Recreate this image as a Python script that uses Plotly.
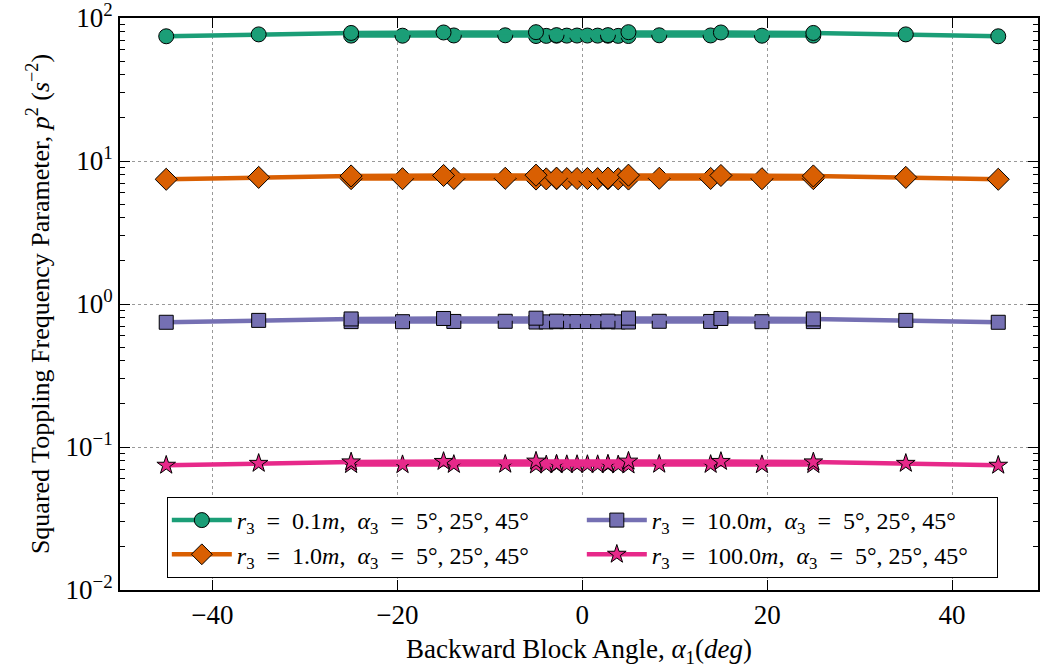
import plotly.graph_objects as go

# alpha_1 sample positions for each alpha_3 series
x_a5 = [-5.0, -3.89, -2.78, -1.67, -0.56, 0.56, 1.67, 2.78, 3.89, 5.0]
x_a25 = [-25.0, -19.44, -13.89, -8.33, -2.78, 2.78, 8.33, 13.89, 19.44, 25.0]
x_a45 = [-45.0, -35.0, -25.0, -15.0, -5.0, 5.0, 15.0, 25.0, 35.0, 45.0]

# r3 = 0.1 m
p2_r01_a5 = [74.8, 75.0, 75.2, 75.3, 75.4, 75.4, 75.3, 75.2, 75.0, 74.8]
p2_r01_a25 = [75.3, 75.2, 75.5, 75.7, 75.9, 75.9, 75.7, 75.5, 75.2, 75.3]
p2_r01_a45 = [74.5, 76.8, 78.6, 79.2, 79.6, 79.6, 79.2, 78.6, 76.8, 74.5]
# r3 = 1.0 m
p2_r1_a5 = [7.48, 7.50, 7.52, 7.53, 7.54, 7.54, 7.53, 7.52, 7.50, 7.48]
p2_r1_a25 = [7.53, 7.52, 7.55, 7.57, 7.59, 7.59, 7.57, 7.55, 7.52, 7.53]
p2_r1_a45 = [7.45, 7.68, 7.86, 7.92, 7.96, 7.96, 7.92, 7.86, 7.68, 7.45]
# r3 = 10.0 m
p2_r10_a5 = [0.748, 0.750, 0.752, 0.753, 0.754, 0.754, 0.753, 0.752, 0.750, 0.748]
p2_r10_a25 = [0.753, 0.752, 0.755, 0.757, 0.759, 0.759, 0.757, 0.755, 0.752, 0.753]
p2_r10_a45 = [0.745, 0.768, 0.786, 0.792, 0.796, 0.796, 0.792, 0.786, 0.768, 0.745]
# r3 = 100.0 m
p2_r100_a5 = [0.0748, 0.0750, 0.0752, 0.0753, 0.0754, 0.0754, 0.0753, 0.0752, 0.0750, 0.0748]
p2_r100_a25 = [0.0753, 0.0752, 0.0755, 0.0757, 0.0759, 0.0759, 0.0757, 0.0755, 0.0752, 0.0753]
p2_r100_a45 = [0.0745, 0.0768, 0.0786, 0.0792, 0.0796, 0.0796, 0.0792, 0.0786, 0.0768, 0.0745]

S = "\u2002"
legend_labels = [
    f"<i>r</i><sub>3</sub>{S}={S}0.1<i>m</i>,{S}<i>α</i><sub>3</sub>{S}={S}5°, 25°, 45°",
    f"<i>r</i><sub>3</sub>{S}={S}1.0<i>m</i>,{S}<i>α</i><sub>3</sub>{S}={S}5°, 25°, 45°",
    f"<i>r</i><sub>3</sub>{S}={S}10.0<i>m</i>,{S}<i>α</i><sub>3</sub>{S}={S}5°, 25°, 45°",
    f"<i>r</i><sub>3</sub>{S}={S}100.0<i>m</i>,{S}<i>α</i><sub>3</sub>{S}={S}5°, 25°, 45°",
]

groups = [
    ([p2_r01_a5, p2_r01_a25, p2_r01_a45], "#1b9e77", "circle", 15, 1),
    ([p2_r1_a5, p2_r1_a25, p2_r1_a45], "#d95f02", "diamond", 17, 3),
    ([p2_r10_a5, p2_r10_a25, p2_r10_a45], "#7570b3", "square", 14, 2),
    ([p2_r100_a5, p2_r100_a25, p2_r100_a45], "#e7298a", "star", 14, 4),
]
xs = [x_a5, x_a25, x_a45]

fig = go.Figure()
for gi, (series, color, sym, msize, rank) in enumerate(groups):
    for si, ys in enumerate(series):
        fig.add_trace(go.Scatter(
            x=xs[si], y=ys, mode="lines+markers",
            line=dict(color=color, width=4.5),
            marker=dict(symbol=sym, size=msize, color=color,
                        line=dict(color="black", width=1)),
            name=legend_labels[gi], legendgroup=str(gi),
            showlegend=(si == 0), legendrank=rank,
        ))

font_family = "Liberation Serif, DejaVu Serif, serif"

fig.update_layout(
    width=1040, height=668,
    margin=dict(l=120, r=2, t=18, b=78, autoexpand=False),
    paper_bgcolor="white", plot_bgcolor="white",
    font=dict(family=font_family, size=24, color="black"),
    showlegend=True,
    legend=dict(
        orientation="h", x=0.051, y=0.021, xanchor="left", yanchor="bottom",
        bgcolor="white", bordercolor="black", borderwidth=1,
        entrywidth=340, entrywidthmode="pixels",
        font=dict(size=24, family=font_family), itemwidth=60,
        tracegroupgap=0,
    ),
)

fig.update_xaxes(
    range=[-50, 49.3], tickvals=[-40, -20, 0, 20, 40],
    ticktext=["−40", "−20", "0", "20", "40"],
    ticks="inside", ticklen=10, tickwidth=1, tickcolor="black",
    showline=True, linecolor="black", linewidth=2, mirror="ticks",
    showgrid=True, gridcolor="#999999", griddash="dot", gridwidth=1,
    zeroline=False, automargin=False, ticklabeloverflow="allow",
    title=dict(text="Backward Block Angle, <i>α</i><sub>1</sub>(<i>deg</i>)",
               font=dict(size=27), standoff=12),
    tickfont=dict(size=27),
)

fig.update_yaxes(
    type="log", range=[-2, 2],
    tickvals=[0.01, 0.1, 1, 10, 100],
    ticktext=["10<sup>−2</sup>", "10<sup>−1</sup>", "10<sup>0</sup>", "10<sup>1</sup>", "10<sup>2</sup>"],
    ticks="inside", ticklen=10, tickwidth=1, tickcolor="black",
    minor=dict(ticks="inside", ticklen=5, tickcolor="black", dtick="D1", showgrid=False),
    showline=True, linecolor="black", linewidth=2, mirror="ticks",
    showgrid=True, gridcolor="#999999", griddash="dot", gridwidth=1,
    zeroline=False, automargin=False, ticklabeloverflow="allow",
    title=dict(text="Squared Toppling Frequency Parameter, <i>p</i><sup>2</sup> (<i>s</i><sup>−2</sup>)",
               font=dict(size=26), standoff=8),
    tickfont=dict(size=27),
)

post = (
    "var gd=document.getElementById('{plot_id}');"
    "document.body.style.margin='0';document.body.style.padding='0';"
    "document.body.style.overflow='hidden';"
    "Plotly.relayout(gd,{width:1040,height:668});"
)
fig.write_html("out.html", post_script=post, config={"displayModeBar": False})
